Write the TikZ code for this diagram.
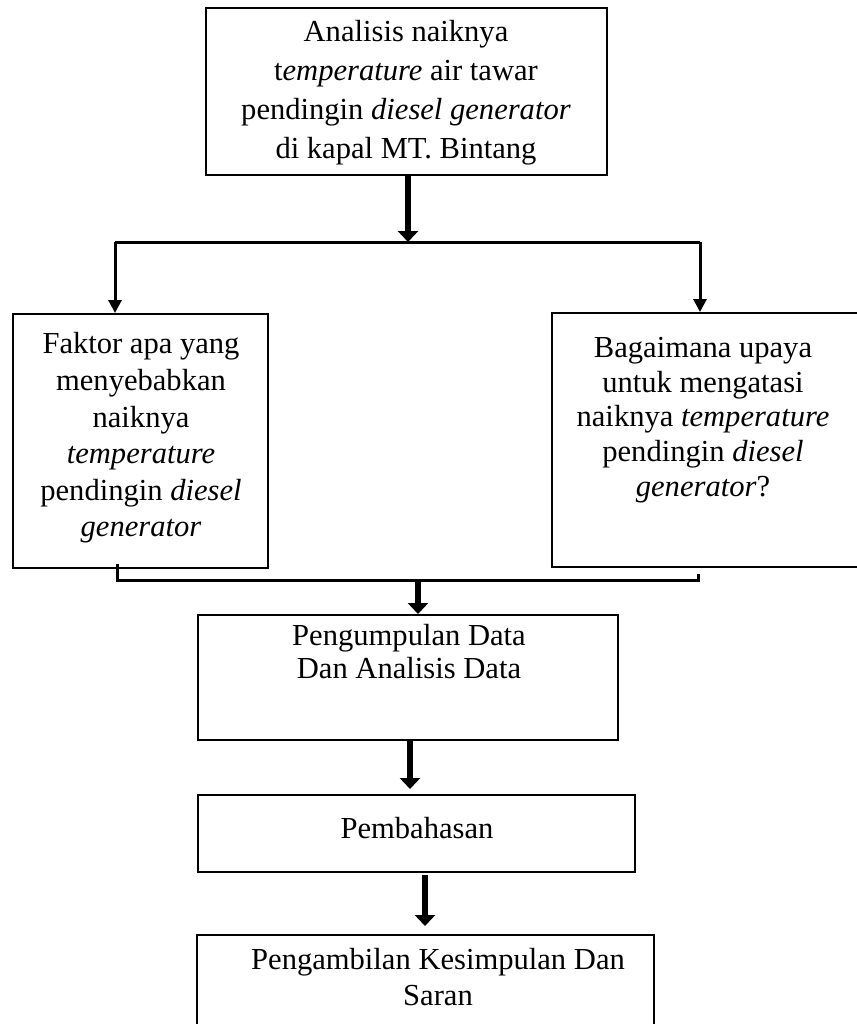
\documentclass[tikz,border=0pt]{standalone}
\usepackage{fontspec}
\setmainfont{Liberation Serif}
\usetikzlibrary{positioning}
\usetikzlibrary{arrows.meta}
\usetikzlibrary{calc}

\tikzset{
  box/.style={draw, line width=0.2mm, inner sep=0pt},
  boxtext/.style={align=center, inner sep=0pt, font=\fontsize{8.7}{#1}\selectfont},
  bar/.style={line width=0.3mm},
  thickarrow/.style={line width=0.6mm, -{Triangle[width=2mm,length=1.1mm]}},
  thinarrow/.style={line width=0.3mm, -{Triangle[width=1.3mm,length=1.3mm]}},
}

\begin{document}
\begin{tikzpicture}[x=0.1mm,y=-0.1mm]

  \useasboundingbox (0,0) rectangle (856,1024);

  % Boxes
  \node[box, minimum width=40.1mm, minimum height=16.7mm] (title)  at (406.5,91.5) {};
  \node[box, minimum width=25.5mm, minimum height=25.4mm] (faktor) at (140.5,441)  {};
  \node[box, minimum width=36.0mm, minimum height=25.4mm] (upaya)  at (732,440)    {};
  \node[box, minimum width=42.0mm, minimum height=12.5mm] (data)   at (408,677.5)  {};
  \node[box, minimum width=43.7mm, minimum height=7.7mm]  (bahas)  at (416.5,833.5){};
  \node[box, minimum width=45.7mm, minimum height=11.0mm] (simpul) at (425.5,990)  {};

  % Texts inside the boxes
  \node[boxtext=11.1pt] (titletxt) at (406,93)
    {Analisis naiknya\\ t\textit{emperature} air tawar\\
     pendingin \textit{diesel generator}\\ di kapal MT. Bintang};
  \node[boxtext=10.4pt] (faktortxt) at (141,438)
    {Faktor apa yang\\ menyebabkan\\ naiknya\\ \textit{temperature}\\
     pendingin \textit{diesel}\\ \textit{generator}};
  \node[boxtext=9.9pt] (upayatxt) at (703,420)
    {Bagaimana upaya\\ untuk mengatasi\\ naiknya \textit{temperature}\\
     pendingin \textit{diesel}\\ \textit{generator}?};
  \node[boxtext=9.4pt] (datatxt) at (409,652)
    {Pengumpulan Data\\ Dan Analisis Data};
  \node[boxtext=10pt] (bahastxt) at (417,828) {Pembahasan};
  \node[boxtext=10pt] (simpultxt) at (438,977)
    {Pengambilan Kesimpulan Dan\\ Saran};

  % Split below the title
  \coordinate (split)  at (408,242);
  \coordinate (splitL) at (115,242);
  \coordinate (splitR) at (700,242);
  \draw[thickarrow] (title.south -| split) -- (split);
  \draw[bar] (splitL) -- (splitR);
  \draw[thinarrow] (splitL) -- (splitL |- faktor.north);
  \draw[thinarrow] (splitR) -- (splitR |- upaya.north);

  % Join below the two questions
  \coordinate (join)  at (418,580);
  \coordinate (joinL) at (117,580);
  \coordinate (joinR) at (698,580);
  \draw[bar] ($(joinL |- faktor.south)+(0,-5)$) -- (joinL) -- (joinR)
    -- ($(joinR |- upaya.south)+(0,6)$);
  \draw[thickarrow] (join) -- (join |- data.north);

  % Down to the end
  \draw[thickarrow, shorten >=0.5mm] ([xshift=0.2mm]data.south)
    -- ([xshift=0.2mm]data.south |- bahas.north);
  \draw[thickarrow, shorten <=0.2mm, shorten >=0.8mm] ([xshift=0.85mm]bahas.south)
    -- ([xshift=0.85mm]bahas.south |- simpul.north);

\end{tikzpicture}
\end{document}
